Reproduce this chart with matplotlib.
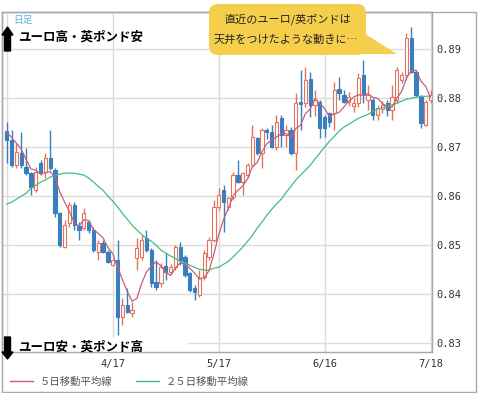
import matplotlib
matplotlib.use("Agg")
import matplotlib.pyplot as plt
import matplotlib.patches as patches
from matplotlib.lines import Line2D
from matplotlib.transforms import IdentityTransform

plt.rcParams['font.family'] = ['Noto Sans CJK JP', 'DejaVu Sans']

# daily EUR/GBP candles
opens = [0.8733, 0.8714, 0.8663, 0.8688, 0.8659, 0.8647, 0.8612, 0.8667, 0.8649, 0.8678,
         0.8653, 0.8565, 0.8496, 0.8545, 0.8582, 0.8539, 0.8535, 0.8547, 0.8531, 0.8486,
         0.8504, 0.8486, 0.8459, 0.8469, 0.8353, 0.8378, 0.8361, 0.8473, 0.8476, 0.8514,
         0.8490, 0.8424, 0.8422, 0.8457, 0.8445, 0.8455, 0.8496, 0.8476, 0.8443, 0.8412,
         0.8398, 0.8435, 0.8476, 0.8510, 0.8578, 0.8612, 0.8578, 0.8598, 0.8643, 0.8629,
         0.8643, 0.8663, 0.8718, 0.8688, 0.8735, 0.8731, 0.8700, 0.8759, 0.8724, 0.8735,
         0.8688, 0.8792, 0.8790, 0.8839, 0.8786, 0.8792, 0.8761, 0.8769, 0.8769, 0.8818,
         0.8806, 0.8792, 0.8784, 0.8790, 0.8847, 0.8796, 0.8796, 0.8765, 0.8778, 0.8790,
         0.8776, 0.8796, 0.8837, 0.8847, 0.8922, 0.8853, 0.8802, 0.8745, 0.8796]
highs = [0.8751, 0.8735, 0.8708, 0.8731, 0.8698, 0.8649, 0.8659, 0.8673, 0.8688, 0.8735,
         0.8657, 0.8567, 0.8551, 0.8588, 0.8588, 0.8547, 0.8576, 0.8551, 0.8537, 0.8510,
         0.8510, 0.8490, 0.8471, 0.8510, 0.8392, 0.8412, 0.8384, 0.8514, 0.8520, 0.8531,
         0.8494, 0.8469, 0.8463, 0.8484, 0.8461, 0.8500, 0.8506, 0.8480, 0.8445, 0.8418,
         0.8449, 0.8490, 0.8516, 0.8592, 0.8616, 0.8622, 0.8598, 0.8649, 0.8673, 0.8649,
         0.8667, 0.8745, 0.8720, 0.8739, 0.8739, 0.8745, 0.8765, 0.8765, 0.8745, 0.8741,
         0.8810, 0.8857, 0.8863, 0.8853, 0.8816, 0.8796, 0.8765, 0.8771, 0.8833, 0.8843,
         0.8816, 0.8812, 0.8800, 0.8851, 0.8878, 0.8827, 0.8800, 0.8786, 0.8794, 0.8796,
         0.8827, 0.8863, 0.8853, 0.8933, 0.8945, 0.8857, 0.8806, 0.8796, 0.8816]
lows = [0.8667, 0.8659, 0.8657, 0.8657, 0.8643, 0.8602, 0.8608, 0.8643, 0.8637, 0.8653,
        0.8557, 0.8496, 0.8494, 0.8537, 0.8531, 0.8510, 0.8531, 0.8524, 0.8486, 0.8469,
        0.8484, 0.8463, 0.8457, 0.8316, 0.8337, 0.8361, 0.8353, 0.8449, 0.8469, 0.8486,
        0.8414, 0.8408, 0.8414, 0.8429, 0.8441, 0.8449, 0.8459, 0.8435, 0.8404, 0.8388,
        0.8394, 0.8429, 0.8469, 0.8506, 0.8571, 0.8527, 0.8571, 0.8592, 0.8627, 0.8602,
        0.8637, 0.8659, 0.8684, 0.8657, 0.8716, 0.8698, 0.8694, 0.8700, 0.8700, 0.8684,
        0.8653, 0.8735, 0.8782, 0.8761, 0.8763, 0.8718, 0.8720, 0.8741, 0.8735, 0.8796,
        0.8790, 0.8784, 0.8771, 0.8782, 0.8790, 0.8776, 0.8755, 0.8755, 0.8769, 0.8763,
        0.8755, 0.8790, 0.8831, 0.8837, 0.8851, 0.8802, 0.8739, 0.8743, 0.8790]
closes = [0.8714, 0.8663, 0.8690, 0.8663, 0.8647, 0.8618, 0.8649, 0.8647, 0.8678, 0.8657,
          0.8565, 0.8500, 0.8541, 0.8582, 0.8541, 0.8531, 0.8565, 0.8531, 0.8490, 0.8504,
          0.8486, 0.8465, 0.8469, 0.8353, 0.8378, 0.8363, 0.8367, 0.8494, 0.8510, 0.8490,
          0.8422, 0.8414, 0.8455, 0.8445, 0.8455, 0.8496, 0.8469, 0.8439, 0.8408, 0.8404,
          0.8433, 0.8484, 0.8510, 0.8578, 0.8602, 0.8588, 0.8596, 0.8643, 0.8629, 0.8647,
          0.8663, 0.8720, 0.8688, 0.8735, 0.8731, 0.8700, 0.8751, 0.8724, 0.8735, 0.8688,
          0.8790, 0.8788, 0.8837, 0.8786, 0.8796, 0.8739, 0.8739, 0.8751, 0.8816, 0.8810,
          0.8792, 0.8802, 0.8790, 0.8841, 0.8806, 0.8806, 0.8765, 0.8780, 0.8786, 0.8776,
          0.8802, 0.8857, 0.8847, 0.8922, 0.8853, 0.8806, 0.8749, 0.8792, 0.8806]

# moving average lines as drawn on the chart
ma5 = [0.8731, 0.8720, 0.8708, 0.8696, 0.8675, 0.8656, 0.8653, 0.8645, 0.8648, 0.8650,
       0.8639, 0.8609, 0.8588, 0.8569, 0.8546, 0.8539, 0.8552, 0.8550, 0.8532, 0.8524,
       0.8515, 0.8495, 0.8483, 0.8455, 0.8430, 0.8406, 0.8386, 0.8391, 0.8422, 0.8445,
       0.8457, 0.8466, 0.8458, 0.8445, 0.8438, 0.8453, 0.8464, 0.8461, 0.8453, 0.8443,
       0.8431, 0.8434, 0.8448, 0.8482, 0.8521, 0.8552, 0.8575, 0.8601, 0.8612, 0.8621,
       0.8636, 0.8660, 0.8669, 0.8691, 0.8707, 0.8715, 0.8721, 0.8728, 0.8728, 0.8720,
       0.8738, 0.8745, 0.8768, 0.8778, 0.8799, 0.8789, 0.8779, 0.8762, 0.8768, 0.8771,
       0.8782, 0.8794, 0.8802, 0.8807, 0.8806, 0.8809, 0.8802, 0.8800, 0.8789, 0.8783,
       0.8782, 0.8800, 0.8814, 0.8841, 0.8856, 0.8857, 0.8835, 0.8824, 0.8801]
ma25 = [0.8584, 0.8588, 0.8594, 0.8600, 0.8606, 0.8616, 0.8622, 0.8629, 0.8633, 0.8639,
        0.8643, 0.8645, 0.8647, 0.8647, 0.8647, 0.8645, 0.8643, 0.8637, 0.8629, 0.8620,
        0.8612, 0.8600, 0.8590, 0.8578, 0.8565, 0.8553, 0.8541, 0.8531, 0.8522, 0.8514,
        0.8508, 0.8500, 0.8490, 0.8484, 0.8478, 0.8473, 0.8467, 0.8463, 0.8459, 0.8455,
        0.8451, 0.8449, 0.8449, 0.8453, 0.8455, 0.8461, 0.8467, 0.8476, 0.8486, 0.8496,
        0.8508, 0.8520, 0.8535, 0.8547, 0.8561, 0.8573, 0.8584, 0.8594, 0.8608, 0.8620,
        0.8633, 0.8643, 0.8653, 0.8663, 0.8676, 0.8688, 0.8700, 0.8712, 0.8722, 0.8733,
        0.8741, 0.8747, 0.8753, 0.8759, 0.8763, 0.8767, 0.8773, 0.8778, 0.8780, 0.8784,
        0.8786, 0.8790, 0.8794, 0.8798, 0.8800, 0.8802, 0.8804, 0.8804, 0.8804]

tick_pos = [0, 22, 44, 66, 88]
tick_labels = ["", "4/17", "5/17", "6/16", "7/18"]
y_ticks = [0.83, 0.84, 0.85, 0.86, 0.87, 0.88, 0.89]

UP = "#e2735c"
DOWN = "#3b7ec0"
W, H = 478, 393

fig = plt.figure(figsize=(W / 100, H / 100), dpi=100)
fig.patch.set_facecolor("white")
ax = fig.add_axes([2 / W, 41 / H, 430 / W, 340 / H])

for i in range(len(closes)):
    o, h, l, c = opens[i], highs[i], lows[i], closes[i]
    col = UP if c >= o else DOWN
    ax.vlines(i, l, h, color=col, linewidth=1, zorder=3)
    face = "white" if c >= o else DOWN
    ax.bar(i, abs(c - o) + 0.00005, bottom=min(o, c), width=0.68,
           facecolor=face, edgecolor=col, linewidth=0.8, zorder=4)

xs = list(range(len(closes)))
ax.plot(xs, ma25, color="#45bb83", linewidth=0.9, zorder=5)
ax.plot(xs, ma5, color="#c5607c", linewidth=0.9, zorder=5)

ax.set_xlim(-1.0, 88.3)
ax.set_ylim(0.8282, 0.8976)
ax.set_yticks(y_ticks)
ax.set_yticklabels(["%.2f" % v for v in y_ticks], family="DejaVu Sans Mono",
                   fontsize=7.5, color="#333333")
ax.yaxis.tick_right()
ax.set_xticks(tick_pos)
ax.set_xticklabels(tick_labels, family="DejaVu Sans Mono", fontsize=7.5, color="#333333")
ax.tick_params(axis="y", length=0, pad=3)
ax.tick_params(axis="x", length=0, pad=5)
ax.grid(True, color="#dcdcdc", linewidth=1)
ax.set_axisbelow(True)
for s in ax.spines.values():
    s.set_color("#a8a8a8")
    s.set_linewidth(1)

ident = IdentityTransform()
# outer frame
fig.add_artist(patches.Rectangle((2, 1), 474, H - 13, transform=ident, fill=False,
                                 edgecolor="#a8a8a8", linewidth=1))

# direction labels
fig.text(13 / W, 1 - 20 / H, "日足", fontsize=7, color="#5ab4dc", va="center")
fig.add_artist(patches.FancyArrow(7.5, H - 51, 0, 24, width=6, head_width=11, head_length=8,
                                  length_includes_head=True, color="black", transform=ident))
fig.text(18 / W, 1 - 37 / H, "ユーロ高・英ポンド安", fontsize=9, fontweight="bold", va="center")

# white patch behind the lower label (hides the bottom gridline there)
fig.add_artist(patches.Rectangle((3, H - 351), 185, 13, transform=ident,
                                 facecolor="white", edgecolor="none", zorder=5))
fig.add_artist(patches.FancyArrow(7.5, H - 337, 0, -22, width=6, head_width=11, head_length=7,
                                  length_includes_head=True, color="black", transform=ident,
                                  zorder=6))
fig.text(18 / W, 1 - 347 / H, "ユーロ安・英ポンド高", fontsize=9, fontweight="bold", va="center",
         zorder=7)

# speech bubble
fig.add_artist(patches.FancyBboxPatch((209, H - 55), 157, 51,
                                      boxstyle="round,pad=0,rounding_size=9",
                                      facecolor="#f5cf4b", edgecolor="none", transform=ident))
fig.add_artist(patches.Polygon([(348, H - 54), (362, H - 32), (397, H - 54)], closed=True,
                               facecolor="#f5cf4b", edgecolor="none", transform=ident))
fig.text(288 / W, 1 - 19 / H, "直近のユーロ/英ポンドは", fontsize=8, ha="center", va="center",
         color="#222222")
fig.text(286 / W, 1 - 40 / H, "天井をつけたような動きに…", fontsize=8, ha="center", va="center",
         color="#222222")

handles = [Line2D([], [], color="#c5607c", linewidth=1),
           Line2D([], [], color="#45bb83", linewidth=1)]
leg = fig.legend(handles, ["５日移動平均線", "２５日移動平均線"], loc="center left",
                 bbox_to_anchor=(10 / W, 11 / H), ncol=2, frameon=False, fontsize=7.5,
                 handlelength=2.2, handletextpad=0.7, columnspacing=2.2,
                 borderaxespad=0, borderpad=0)
for t in leg.get_texts():
    t.set_color("#555555")

fig.savefig("out.png", dpi=100)
